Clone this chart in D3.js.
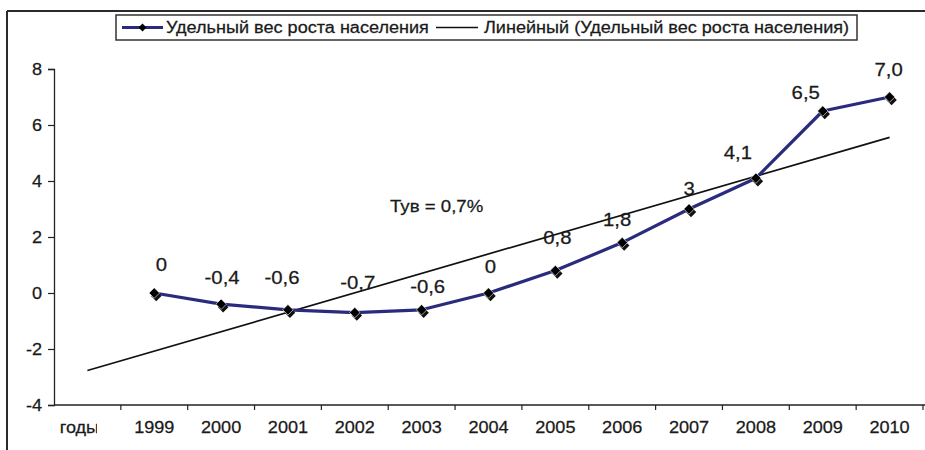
<!DOCTYPE html>
<html>
<head>
<meta charset="utf-8">
<script src="https://cdn.jsdelivr.net/npm/d3@7"></script>
<style>
  html, body { margin: 0; padding: 0; background: #fff; }
  svg { display: block; font-family: Arial, "Liberation Sans", sans-serif; }
</style>
</head>
<body>
<svg id="chart" width="925" height="450"></svg>
<script>
// Categories along the x axis (the first slot holds the axis caption)
const categories = ["годы", "1999", "2000", "2001", "2002", "2003", "2004", "2005", "2006", "2007", "2008", "2009", "2010"];
// Share of population growth by year
const years = ["1999", "2000", "2001", "2002", "2003", "2004", "2005", "2006", "2007", "2008", "2009", "2010"];
const growth = [0, -0.4, -0.6, -0.7, -0.6, 0, 0.8, 1.8, 3, 4.1, 6.5, 7.0];
const growthLabels = ["0", "-0,4", "-0,6", "-0,7", "-0,6", "0", "0,8", "1,8", "3", "4,1", "6,5", "7,0"];
const yTicks = [-4, -2, 0, 2, 4, 6, 8];
const seriesName = "Удельный вес роста населения";
const trendName = "Линейный (Удельный вес роста населения)";
const note = "Тув = 0,7%";

// Hand-placed label nudges (dx, dy from the default spot above each marker)
const labelNudge = {
  "1999": [7, -2], "2000": [1, 0], "2001": [-6, -6], "2002": [3, -4],
  "2003": [6, 3], "2004": [2, 0], "2005": [2, -7], "2006": [-5, 3],
  "2007": [0, 6], "2008": [-18, 1], "2009": [-17, 8], "2010": [-1, -1]
};

const svg = d3.select("#chart");
const lineColor = "#2b2b7d";
const textColor = "#1a1a1a";
const stretch = 1.13; // glyphs are drawn slightly wide

// Places a text at (x, y) with the wide glyph style
function put(sel, x, y) {
  return sel.attr("transform", `translate(${x},${y}) scale(${stretch},1)`)
    .attr("fill", textColor).attr("stroke", textColor).attr("stroke-width", 0.25);
}

const x = d3.scaleBand().domain(categories).range([54, 923]).paddingInner(0).paddingOuter(0);
const y = d3.scaleLinear().domain([-4, 8]).range([405, 69]);
const cx = c => x(c) + x.bandwidth() / 2;

// Outer frame (top and left edges visible)
svg.append("line").attr("x1", 7).attr("x2", 925).attr("y1", 11).attr("y2", 11)
  .attr("stroke", "#2a2a2a").attr("stroke-width", 2);
svg.append("line").attr("x1", 7).attr("x2", 7).attr("y1", 11).attr("y2", 450)
  .attr("stroke", "#2a2a2a").attr("stroke-width", 2);

// Y axis
const yAxis = d3.axisLeft(y).tickValues(yTicks).tickSize(6).tickFormat("");
const gy = svg.append("g").attr("transform", "translate(54,0)").call(yAxis);
gy.select(".domain").attr("stroke", "#222").attr("stroke-width", 1.3);
gy.selectAll(".tick line").attr("stroke", "#222").attr("stroke-width", 1.2);
gy.selectAll(".tick text").remove();
svg.append("g").selectAll("text").data(yTicks).join("text")
  .each(function (d) { put(d3.select(this), 42, y(d) + 6); })
  .attr("text-anchor", "end").attr("font-size", 16)
  .text(d => d < 0 ? "-" + Math.abs(d) : String(d));

// X axis: line at the bottom with ticks at the category boundaries
const gx = svg.append("g");
gx.append("line").attr("x1", 54).attr("x2", 925).attr("y1", y(-4)).attr("y2", y(-4))
  .attr("stroke", "#222").attr("stroke-width", 1.5);
gx.selectAll("line.tk").data(categories).join("line")
  .attr("class", "tk")
  .attr("x1", d => x(d) + x.bandwidth())
  .attr("x2", d => x(d) + x.bandwidth())
  .attr("y1", y(-4)).attr("y2", y(-4) + 5)
  .attr("stroke", "#222").attr("stroke-width", 1.2);

// Category labels; the caption in the first slot is cut at its right edge
svg.append("clipPath").attr("id", "capClip")
  .append("rect").attr("x", 54).attr("y", 410).attr("width", 43).attr("height", 40);
gx.selectAll("g.cat").data(categories).join("g")
  .attr("class", "cat")
  .attr("clip-path", d => d === categories[0] ? "url(#capClip)" : null)
  .append("text")
  .each(function (d) { put(d3.select(this), cx(d) - (d === categories[0] ? 8 : 0), 433); })
  .attr("text-anchor", "middle")
  .attr("font-size", 16)
  .text(d => d);

// Linear trend (least squares over category positions)
const idx = years.map(yr => categories.indexOf(yr));
const mx = d3.mean(idx), my = d3.mean(growth);
const slope = d3.sum(idx.map((v, i) => (v - mx) * (growth[i] - my))) / d3.sum(idx.map(v => (v - mx) ** 2));
const intercept = my - slope * mx;
const trendAt = i => intercept + slope * i;
const t0 = 0, t1 = categories.length - 1;
svg.append("line")
  .attr("x1", cx(categories[t0])).attr("y1", y(trendAt(t0)))
  .attr("x2", cx(categories[t1])).attr("y2", y(trendAt(t1)))
  .attr("stroke", "#111").attr("stroke-width", 1.7);

// Series line
const line = d3.line().x((d, i) => cx(years[i])).y(d => y(d));
svg.append("path").datum(growth).attr("d", line)
  .attr("fill", "none").attr("stroke", lineColor).attr("stroke-width", 3.2)
  .attr("stroke-linejoin", "round");

// Diamond markers with a slight drop shadow
const diamond = d3.symbol().type(d3.symbolDiamond2).size(70);
const mk = svg.append("g");
growth.forEach((v, i) => {
  const px = cx(years[i]), py = y(v);
  mk.append("path").attr("d", diamond()).attr("transform", `translate(${px + 2},${py + 3})`)
    .attr("fill", "#111");
  mk.append("path").attr("d", diamond()).attr("transform", `translate(${px},${py})`)
    .attr("fill", "#000").attr("stroke", "#fff").attr("stroke-width", 0.6);
});

// Value labels
svg.append("g").selectAll("text").data(growth).join("text")
  .each(function (d, i) {
    put(d3.select(this), cx(years[i]) + labelNudge[years[i]][0], y(d) - 20 + labelNudge[years[i]][1]);
  })
  .attr("text-anchor", "middle")
  .attr("font-size", 18)
  .text((d, i) => growthLabels[i]);

// Note
put(svg.append("text"), 390, 212).attr("font-size", 16.5).text(note);

// Legend
const lg = svg.append("g");
lg.append("rect").attr("x", 116).attr("y", 15).attr("width", 741).attr("height", 25)
  .attr("fill", "#fff").attr("stroke", "#333").attr("stroke-width", 1.5);
lg.append("line").attr("x1", 122).attr("x2", 163).attr("y1", 27.5).attr("y2", 27.5)
  .attr("stroke", lineColor).attr("stroke-width", 3.2);
lg.append("path").attr("d", d3.symbol().type(d3.symbolDiamond2).size(40)())
  .attr("transform", "translate(142.5,27.5)").attr("fill", "#000");
put(lg.append("text"), 166, 33).attr("font-size", 16).text(seriesName);
lg.append("line").attr("x1", 436).attr("x2", 478).attr("y1", 27.5).attr("y2", 27.5)
  .attr("stroke", "#111").attr("stroke-width", 1.7);
put(lg.append("text"), 484, 33).attr("font-size", 16).text(trendName);
</script>
</body>
</html>
